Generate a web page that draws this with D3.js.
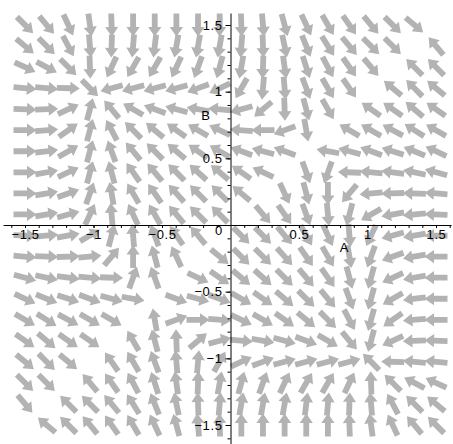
<!DOCTYPE html>
<html>
<head>
<meta charset="utf-8">
<script src="https://cdn.jsdelivr.net/npm/d3@7"></script>
<style>
body { margin: 0; background: #fff; }
svg text { font-family: "Liberation Sans", Arial, sans-serif; font-size: 13px; fill: #000; }
</style>
</head>
<body>
<div id="fig"></div>
<script>
// grid of the direction field (A across, B from top to bottom)
var gridA = [-1.5, -1.342, -1.184, -1.026, -0.868, -0.711, -0.553, -0.395, -0.237, -0.079,
             0.079, 0.237, 0.395, 0.553, 0.711, 0.868, 1.026, 1.184, 1.342, 1.5];
var gridB = [1.5, 1.342, 1.184, 1.026, 0.868, 0.711, 0.553, 0.395, 0.237, 0.079,
             -0.079, -0.237, -0.395, -0.553, -0.711, -0.868, -1.026, -1.184, -1.342, -1.5];

// arrow direction in degrees (0 = +A, 90 = +B), null where no arrow is drawn
var arrowAngles = [
    [-45,-50,-65,-82,-88,-90,-90,-90,-90,-90,-88,-85,-75,-65,-60,-55,-50,-45,-40,null],
    [-40,-45,-62,-85,-92,-95,-97,-100,-100,-100,-95,-88,-78,-68,-58,-50,-45,-45,null,130],
    [-25,-28,-45,-88,-115,-120,-120,-115,-110,-105,-100,-92,-82,-72,-62,-55,-50,null,135,135],
    [-5,-5,-2,-45,-165,-165,-165,-165,-160,-155,-120,-95,-85,-70,-60,-55,null,140,135,140],
    [-2,2,25,75,130,150,160,165,170,175,195,220,-88,-75,-60,null,145,145,140,145],
    [0,5,35,75,118,135,140,145,150,155,175,180,200,-80,null,150,150,152,148,150],
    [0,7,30,75,110,130,135,140,145,150,160,165,160,null,170,165,160,162,158,155],
    [0,10,25,75,105,125,130,135,138,140,145,155,null,-70,250,178,175,172,168,165],
    [0,10,20,70,100,120,125,132,135,135,140,null,-65,-75,-90,230,185,182,178,175],
    [0,10,15,65,95,115,120,130,135,135,null,-50,-55,-70,-85,-105,210,190,185,178],
    [-2,5,10,30,75,95,110,125,130,null,-45,-45,-50,-60,-65,-85,245,195,190,180],
    [-5,-2,2,5,50,90,105,115,null,-40,-45,-45,-48,-55,-60,-80,250,200,190,180],
    [-15,-12,-8,-5,-2,70,110,null,-25,-35,-40,-42,-45,-50,-55,-75,255,205,190,180],
    [-25,-22,-18,-20,-15,-10,null,-20,-15,-20,-30,-35,-40,-45,-50,-70,-105,-150,-173,180],
    [-30,-32,-28,-30,-30,null,100,20,0,-5,-25,-30,-35,-40,-45,-62,-105,-145,-175,180],
    [-35,-40,-35,-35,null,120,105,92,40,15,-5,-10,-15,-20,-30,-50,-105,-155,-178,178],
    [-40,-45,-40,null,125,120,110,95,85,60,25,20,15,15,15,15,135,178,175,175],
    [-45,-45,null,130,125,118,108,98,88,80,75,70,65,60,60,65,92,135,152,155],
    [-50,null,135,135,130,122,112,102,92,85,80,80,80,83,85,88,95,118,135,140],
    [null,140,135,130,125,120,115,105,95,92,90,90,90,90,90,92,98,115,130,135]
];

var majorTicks = [-1.5, -1, -0.5, 0.5, 1, 1.5];
var majorLabels = ["\u22121.5", "\u22121", "\u22120.5", "0.5", "1", "1.5"];
var minorTicks = [-1.6, -1.5, -1.4, -1.3, -1.2, -1.1, -1, -0.9, -0.8, -0.7, -0.6, -0.5, -0.4, -0.3, -0.2, -0.1,
                  0.1, 0.2, 0.3, 0.4, 0.5, 0.6, 0.7, 0.8, 0.9, 1, 1.1, 1.2, 1.3, 1.4, 1.5, 1.6];

var width = 453, height = 444;

var x = d3.scaleLinear().domain([-1.5, 1.5]).range([25, 436]);
var y = d3.scaleLinear().domain([-1.5, 1.5]).range([425, 25]);

var svg = d3.select("#fig").append("svg")
    .attr("width", width)
    .attr("height", height);

// cells of the field
var cells = [];
arrowAngles.forEach((row, j) => {
    row.forEach((ang, i) => {
        if (ang !== null) cells.push({ a: gridA[i], b: gridB[j], ang: ang });
    });
});

// thick arrow, pointing along +x, centred on the origin
var len = 23, shaftW = 2.9, headW = 6.6, headL = 9.5;
var arrowShape = [
    [-len / 2, -shaftW], [len / 2 - headL, -shaftW], [len / 2 - headL, -headW],
    [len / 2, 0],
    [len / 2 - headL, headW], [len / 2 - headL, shaftW], [-len / 2, shaftW]
];

svg.append("g").selectAll("polygon")
    .data(cells)
    .enter().append("polygon")
    .attr("points", arrowShape.map(p => p.join(",")).join(" "))
    .attr("transform", d => "translate(" + x(d.a) + "," + y(d.b) + ") rotate(" + (-d.ang) + ")")
    .style("fill", "#b3b3b3");

// axes through the origin
var xLine = x.copy().domain([-1.66, 1.61]).range([x(-1.66), x(1.61)]);
var yLine = y.copy().domain([-1.64, 1.59]).range([y(-1.64), y(1.59)]);

var xAxisG = svg.append("g").attr("transform", "translate(0," + y(0) + ")");
xAxisG.call(d3.axisBottom(xLine).tickValues(minorTicks).tickSize(3).tickSizeOuter(0).tickFormat(""));
xAxisG.append("g")
    .call(d3.axisBottom(xLine).tickValues(majorTicks).tickSize(3).tickPadding(2)
        .tickFormat((d, k) => majorLabels[k]))
    .call(g => g.select(".domain").remove());

var yAxisG = svg.append("g").attr("transform", "translate(" + x(0) + ",0)");
yAxisG.call(d3.axisLeft(yLine).tickValues(minorTicks.filter(v => v <= 1.5)).tickSize(3).tickSizeOuter(0).tickFormat(""));
yAxisG.append("g")
    .call(d3.axisLeft(yLine).tickValues(majorTicks).tickSize(5).tickPadding(3)
        .tickFormat((d, k) => majorLabels[k]))
    .call(g => g.select(".domain").remove());

svg.selectAll(".tick text")
    .style("font-size", "13px")
    .style("letter-spacing", "0.6px")
    .style("font-family", "\"Liberation Sans\", Arial, sans-serif");
svg.selectAll(".domain, .tick line").attr("stroke", "#000");

svg.append("text")
    .attr("x", x(0) - 12)
    .attr("y", y(0) + 10)
    .attr("text-anchor", "middle")
    .text("0");

svg.append("text")
    .attr("x", x(0.83))
    .attr("y", y(0) + 27)
    .attr("text-anchor", "middle")
    .text("A");

svg.append("text")
    .attr("x", x(0) - 25)
    .attr("y", y(0.79))
    .attr("text-anchor", "middle")
    .text("B");
</script>
</body>
</html>
